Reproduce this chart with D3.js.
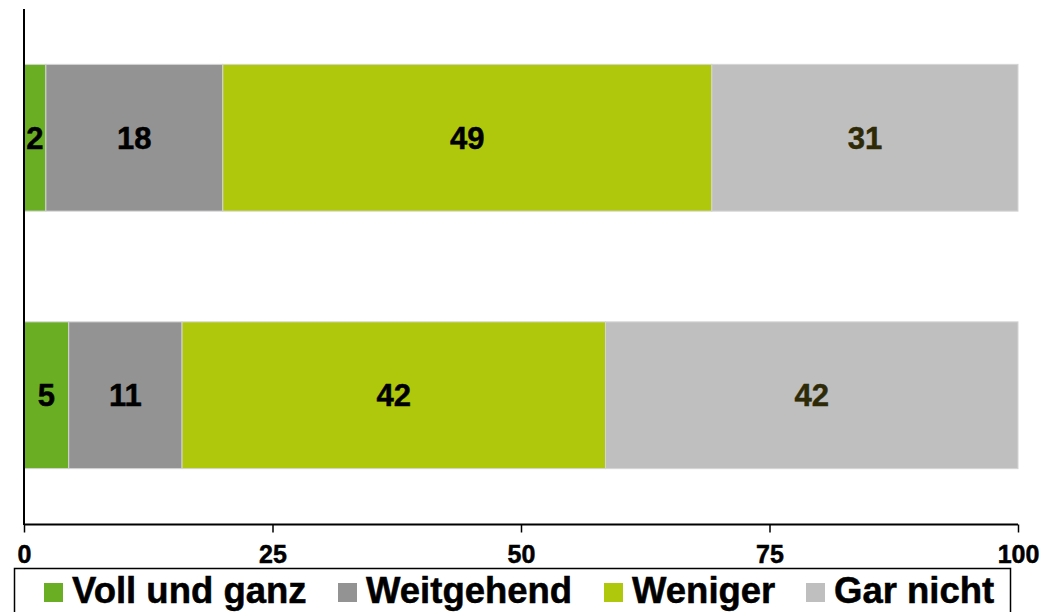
<!DOCTYPE html>
<html>
<head>
<meta charset="utf-8">
<script src="https://cdn.jsdelivr.net/npm/d3@7"></script>
<style>
  body { margin: 0; background: #fff; }
  text { font-family: "Liberation Sans", Arial, sans-serif; font-weight: bold; }
</style>
</head>
<body>
<svg id="chart"></svg>
<script>
// Stacked bar data (percent), two rows
const rows = ['A', 'B'];
const series = ['Voll und ganz', 'Weitgehend', 'Weniger', 'Gar nicht'];
const colors = ['#6aaf23', '#939393', '#b0c80c', '#bfbfbf'];
const labelColors = ['#000', '#000', '#000', '#2e2a08'];
const values = [
    [2.2, 17.8, 49.2, 30.8],
    [4.5, 11.4, 42.6, 41.5]
];
const labels = [
    [2, 18, 49, 31],
    [5, 11, 42, 42]
];
const ticks = [0, 25, 50, 75, 100];

const width = 1054;
const height = 612;

const svg = d3.select('#chart')
    .attr('width', width)
    .attr('height', height);

const x = d3.scaleLinear().domain([0, 100]).range([24, 1018]);
const y = d3.scaleBand().domain(rows).range([9, 524])
    .paddingInner(0.43).paddingOuter(0.215);

// Build stacked segments
const segs = [];
rows.forEach((r, i) => {
    let acc = 0;
    values[i].forEach((v, j) => {
        segs.push({ row: r, k: j, x0: acc, x1: acc + v, label: labels[i][j] });
        acc += v;
    });
});

svg.selectAll('.seg')
    .data(segs)
    .join('rect')
    .attr('class', 'seg')
    .attr('x', d => x(d.x0))
    .attr('y', d => y(d.row))
    .attr('width', d => x(d.x1) - x(d.x0))
    .attr('height', y.bandwidth())
    .attr('fill', d => colors[d.k])
    .attr('stroke', '#d4d4d4')
    .attr('stroke-width', 1);

svg.selectAll('.val')
    .data(segs)
    .join('text')
    .attr('class', 'val')
    .attr('x', d => (x(d.x0) + x(d.x1)) / 2)
    .attr('y', d => y(d.row) + y.bandwidth() / 2)
    .attr('dy', '0.36em')
    .attr('text-anchor', 'middle')
    .attr('font-size', 31)
    .attr('fill', d => labelColors[d.k])
    .attr('stroke', d => labelColors[d.k])
    .attr('stroke-width', 0.5)
    .text(d => d.label);

// X axis
const xAxis = svg.append('g')
    .attr('transform', 'translate(0,524.5)')
    .call(d3.axisBottom(x).tickValues(ticks).tickSize(8).tickPadding(13));
xAxis.select('.domain').attr('stroke', '#000').attr('stroke-width', 2).attr('d', 'M24,0H1018');
xAxis.selectAll('.tick line').attr('stroke', '#000').attr('stroke-width', 1.5);
xAxis.selectAll('.tick text')
    .attr('font-size', 25)
    .attr('font-family', '"Liberation Sans", Arial, sans-serif')
    .attr('font-weight', 'bold')
    .attr('fill', '#000')
    .attr('stroke', '#000')
    .attr('stroke-width', 0.5);

// Y axis line
svg.append('line')
    .attr('x1', x(0)).attr('x2', x(0))
    .attr('y1', 9).attr('y2', 525)
    .attr('stroke', '#000').attr('stroke-width', 2);

// Legend
const legend = svg.append('g');
legend.append('rect')
    .attr('x', 14.5).attr('y', 568.5)
    .attr('width', 996).attr('height', 60)
    .attr('fill', '#fff').attr('stroke', '#000').attr('stroke-width', 1.5);

const legendX = [44, 338, 604, 806];
const items = legend.selectAll('.item')
    .data(series)
    .join('g')
    .attr('class', 'item')
    .attr('transform', (d, i) => `translate(${legendX[i]},0)`);
items.append('rect')
    .attr('x', 0).attr('y', 583)
    .attr('width', 19).attr('height', 19)
    .attr('fill', (d, i) => colors[i]);
items.append('text')
    .attr('x', 28).attr('y', 603)
    .attr('font-size', 36.5)
    .attr('fill', '#000')
    .attr('stroke', '#000')
    .attr('stroke-width', 0.5)
    .text(d => d);
</script>
</body>
</html>
